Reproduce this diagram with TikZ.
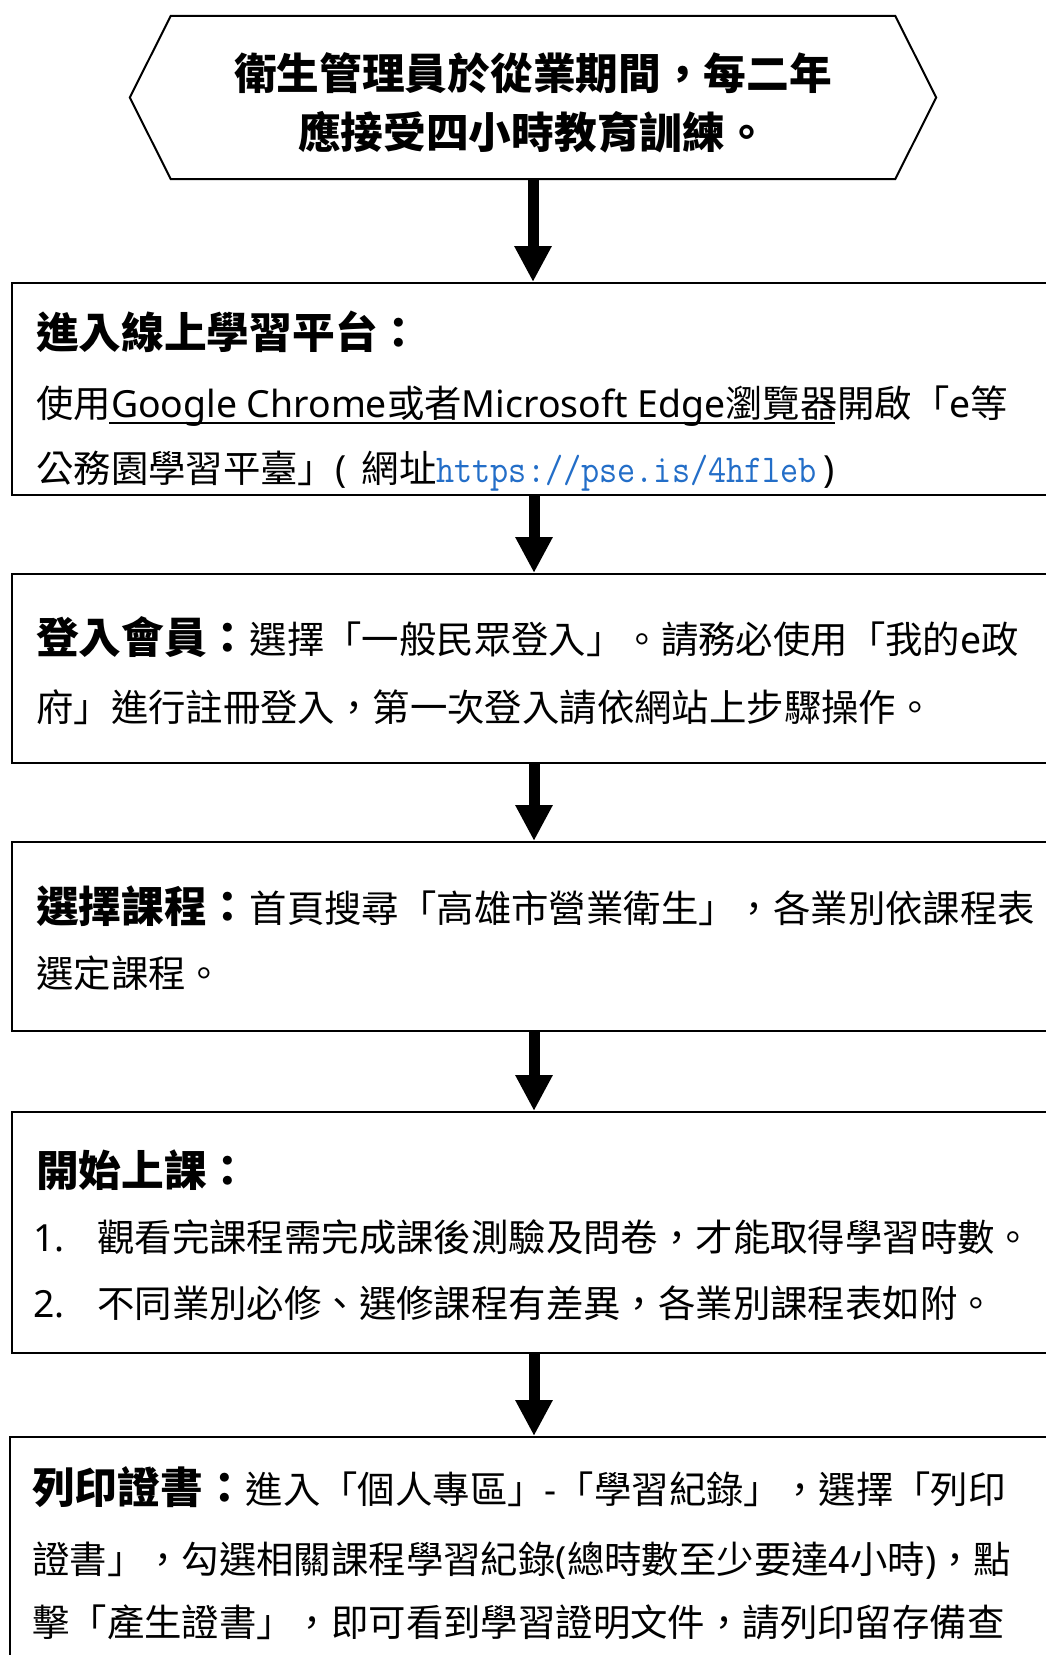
\documentclass[tikz,border=0pt]{standalone}
\usepackage{fontspec}
\setmainfont{Noto Sans CJK TC}[Script=CJK,Language=Chinese Traditional]
\newfontfamily\lat{Noto Sans}
\usetikzlibrary{arrows.meta}
\definecolor{urlblue}{RGB}{35,110,200}
\tikzset{
  boxline/.style={draw=black, line width=2pt},
  flowbox/.style={boxline, rectangle, inner sep=0pt},
  txt/.style={inner sep=0pt, anchor=base west, font=\fontsize{37.4}{40}\selectfont},
  hd/.style={inner sep=0pt, anchor=base west, font=\bfseries\fontsize{42.7}{46}\selectfont},
  flow/.style={line width=11pt, -{Triangle[length=36pt,width=35pt]}},
}
\begin{document}
\begin{tikzpicture}[x=1pt,y=-1pt]
\useasboundingbox (0,0) rectangle (1046,1655);
\clip (0,0) rectangle (1046,1655);
\fill[white] (0,0) rectangle (1046,1655);

% start hexagon
\node[inner sep=0pt, minimum width=724pt, minimum height=163pt] (hex) at (533,97.5) {};
\draw[boxline] (hex.north west) -- (hex.north east) -- ([xshift=41pt]hex.east)
  -- (hex.south east) -- (hex.south west) -- ([xshift=-41pt]hex.west) -- cycle;
\node[hd, anchor=base] (t0a) at (533,89.7) {衛生管理員於從業期間，每二年};
\node[hd, anchor=base] (t0b) at (533,148.7) {應接受四小時教育訓練。};

% boxes
\node[flowbox, minimum width=1044pt, minimum height=212pt] (box1) at (534,389) {};
\node[flowbox, minimum width=1044pt, minimum height=189pt] (box2) at (534,668.5) {};
\node[flowbox, minimum width=1044pt, minimum height=189pt] (box3) at (534,936.5) {};
\node[flowbox, minimum width=1044pt, minimum height=241pt] (box4) at (534,1232.5) {};
\node[flowbox, minimum width=1048pt, minimum height=263pt] (box5) at (534,1568.5) {};

% arrows
\draw[flow] (hex.south) -- (hex.south |- box1.north);
\draw[flow] (box1.south) -- (box2.north);
\draw[flow] (box2.south) -- (box3.north);
\draw[flow] (box3.south) -- (box4.north);
\draw[flow] (box4.south) -- (box5.north);

% box 1
\node[hd] (h1) at (36,348.7) {進入線上學習平台：};
\node[txt] (l1a) at (36,417.2) {使用{\lat Google Chrome}或者{\lat Microsoft Edge}瀏覽器開啟「{\lat e}等};
\draw[line width=1.8pt] (109,423) -- (835,423);
\node[txt] (l1b) at (36,482.2) {公務園學習平臺」{\lat (}\hspace{15pt}網址{\ttfamily\color{urlblue}\fontsize{35.2}{40}\selectfont\scalebox{1}[1.12]{https://pse.is/4hfleb}}\hspace{6pt}{\lat )}};

% box 2
\node[hd] (h2) at (36,653) {登入會員：};
\node[txt] (l2a) at (249.5,653) {選擇「一般民眾登入」。請務必使用「我的{\lat e}政};
\node[txt] (l2b) at (36,721.2) {府」進行註冊登入，第一次登入請依網站上步驟操作。};

% box 3
\node[hd] (h3) at (36,922) {選擇課程：};
\node[txt] (l3a) at (249.5,922) {首頁搜尋「高雄市營業衛生」，各業別依課程表};
\node[txt] (l3b) at (36,987.2) {選定課程。};

% box 4
\node[hd] (h4) at (36,1186) {開始上課：};
\node[txt] (n41) at (33,1251.2) {\lat 1.};
\node[txt] (l41) at (97,1251.2) {觀看完課程需完成課後測驗及問卷，才能取得學習時數。};
\node[txt] (n42) at (33,1317.2) {\lat 2.};
\node[txt] (l42) at (97,1317.2) {不同業別必修、選修課程有差異，各業別課程表如附。};

% box 5
\node[hd] (h5) at (32,1503) {列印證書：};
\node[txt] (l5a) at (245.5,1503) {進入「個人專區」{\lat -}「學習紀錄」，選擇「列印};
\node[txt] (l5b) at (32,1573) {證書」，勾選相關課程學習紀錄{\lat (}總時數至少要達{\lat 4}小時{\lat )}，點};
\node[txt] (l5c) at (32,1636) {擊「產生證書」，即可看到學習證明文件，請列印留存備查};
\end{tikzpicture}
\end{document}
